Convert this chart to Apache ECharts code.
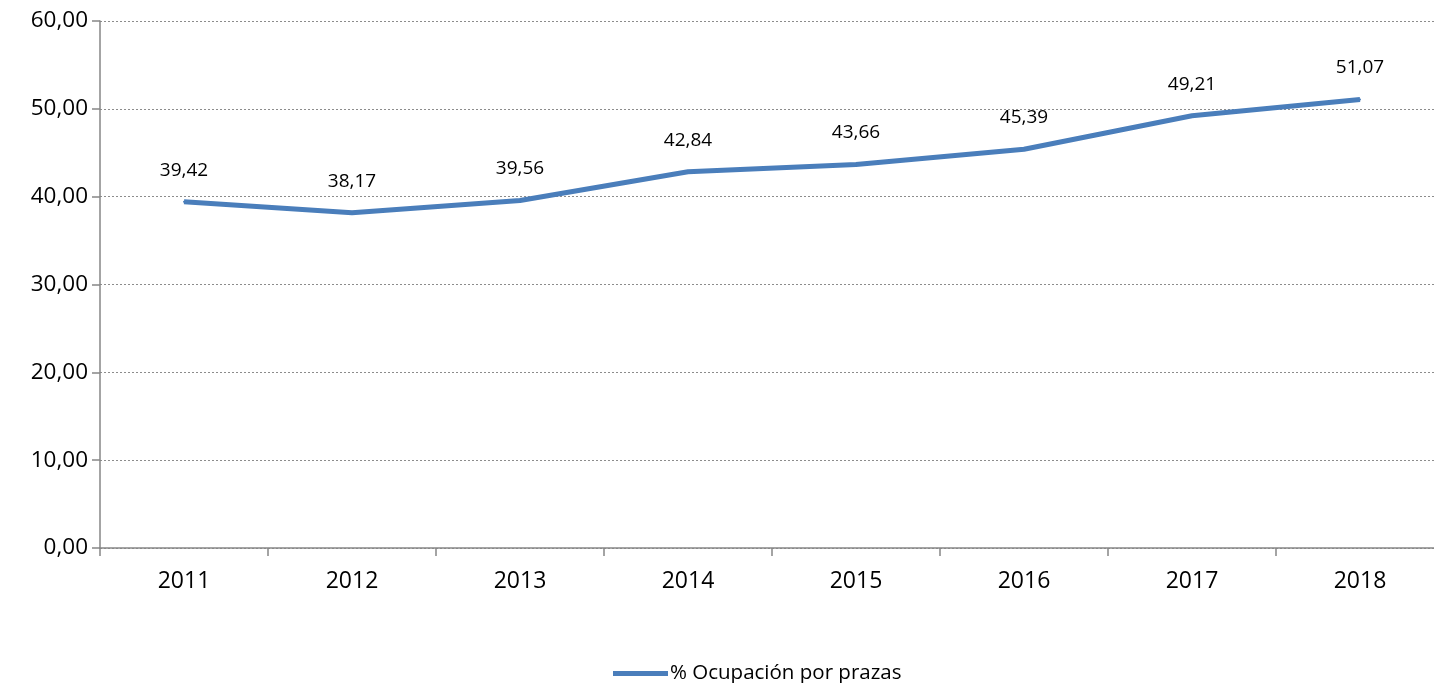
<!DOCTYPE html>
<html><head><meta charset="utf-8">
<script src="https://cdn.jsdelivr.net/npm/echarts@6/dist/echarts.min.js"></script>
<style>html,body{margin:0;padding:0;background:#fff;overflow:hidden}#c{width:1444px;height:683px}</style>
</head><body><div id="c"></div>
<script>
const categories = ['2011','2012','2013','2014','2015','2016','2017','2018'];
const values = [39.42, 38.17, 39.56, 42.84, 43.66, 45.39, 49.21, 51.07];
const seriesName = '% Ocupación por prazas';
const fmt = v => Number(v).toFixed(2).replace('.', ',');
const FONT = '"Open Sans", sans-serif';
const chart = echarts.init(document.getElementById('c'));
chart.setOption({
  animation: false,
  grid: {left: 100, right: 0, top: 21, bottom: 135, containLabel: false},
  legend: {
    top: 658, left: 608,
    itemWidth: 55, itemHeight: 5, itemGap: 2,
    icon: 'rect',
    textStyle: {fontFamily: FONT, fontSize: 20.5, color: '#000', padding: [0, 0, 0, -3]},
    data: [seriesName]
  },
  xAxis: {
    type: 'category', data: categories, boundaryGap: true,
    axisLine: {lineStyle: {color: '#868686', width: 1.5}},
    axisTick: {show: true, length: 8, lineStyle: {color: '#868686', width: 1.5}},
    axisLabel: {fontFamily: FONT, fontSize: 23, color: '#000', margin: 22}
  },
  yAxis: {
    type: 'value', min: 0, max: 60, interval: 10,
    axisLine: {show: true, lineStyle: {color: '#868686', width: 1.5}},
    axisTick: {show: true, length: 8, lineStyle: {color: '#868686', width: 1.5}},
    axisLabel: {fontFamily: FONT, fontSize: 22.5, color: '#000', margin: 12, formatter: fmt},
    splitLine: {show: true, lineStyle: {color: '#8c8c8c', type: [2, 2], width: 1}}
  },
  series: [{
    name: seriesName, type: 'line', data: values,
    symbol: 'circle', symbolSize: 2, showSymbol: true, smooth: false,
    lineStyle: {color: '#4a7ebb', width: 5},
    itemStyle: {color: '#4a7ebb'},
    label: {show: true, position: 'top', distance: 21, fontFamily: FONT, fontSize: 19, color: '#000',
      formatter: p => fmt(p.value)}
  }]
});
</script></body></html>
